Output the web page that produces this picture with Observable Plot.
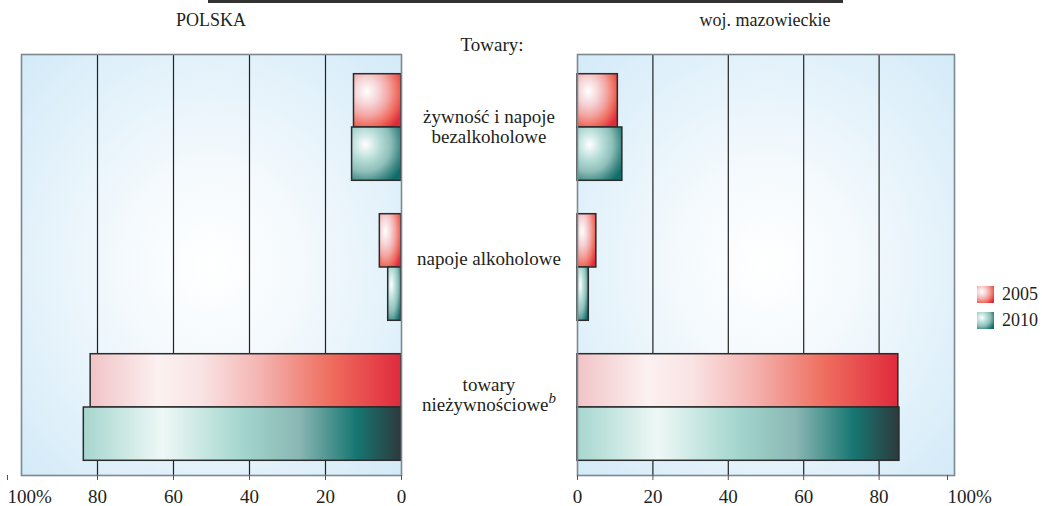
<!DOCTYPE html>
<html>
<head>
<meta charset="utf-8">
<script src="https://cdn.jsdelivr.net/npm/d3@7"></script>
<script src="https://cdn.jsdelivr.net/npm/@observablehq/plot@0.6"></script>
<style>
  html, body { margin: 0; padding: 0; background: #ffffff; }
  #root { position: relative; width: 1042px; height: 506px; overflow: hidden; font-family: "Liberation Serif", "Times New Roman", serif; color: #231f20; }
  .abs { position: absolute; }
  .panel-title { position: absolute; top: 9px; font-size: 18px; line-height: 22px; text-align: center; white-space: nowrap; }
  .cat { position: absolute; left: 389px; width: 200px; text-align: center; font-size: 19px; line-height: 20px; white-space: nowrap; }
  .legend-item { position: absolute; left: 977px; font-size: 18px; line-height: 17px; white-space: nowrap; display: flex; align-items: center; }
  .legend-item svg { margin-right: 8px; }
</style>
</head>
<body>
<svg width="0" height="0" style="position:absolute">
  <defs>
    <radialGradient id="bgGrad" cx="0.5" cy="0.5" r="0.72">
      <stop offset="0" stop-color="#ffffff"/>
      <stop offset="0.35" stop-color="#f3f9fd"/>
      <stop offset="1" stop-color="#d2eaf8"/>
    </radialGradient>
    <radialGradient id="redGrad" cx="0.28" cy="0.33" fx="0.28" fy="0.33" r="0.85">
      <stop offset="0" stop-color="#ffffff"/>
      <stop offset="0.3" stop-color="#f6d3d5"/>
      <stop offset="0.55" stop-color="#f3a3a0"/>
      <stop offset="0.78" stop-color="#ef6a5c"/>
      <stop offset="1" stop-color="#e02a3c"/>
    </radialGradient>
    <radialGradient id="tealGrad" cx="0.28" cy="0.33" fx="0.28" fy="0.33" r="0.85">
      <stop offset="0" stop-color="#ffffff"/>
      <stop offset="0.35" stop-color="#b5dcd7"/>
      <stop offset="0.6" stop-color="#8fbfba"/>
      <stop offset="0.85" stop-color="#3c8784"/>
      <stop offset="1" stop-color="#0f6d69"/>
    </radialGradient>
    <linearGradient id="redLin" x1="0" y1="0" x2="1" y2="0">
      <stop offset="0" stop-color="#f1c3c6"/>
      <stop offset="0.22" stop-color="#fcf1f1"/>
      <stop offset="0.36" stop-color="#f9e3e3"/>
      <stop offset="0.55" stop-color="#f4b3b0"/>
      <stop offset="0.77" stop-color="#ef6e5f"/>
      <stop offset="1" stop-color="#e02a3c"/>
    </linearGradient>
    <linearGradient id="tealLin" x1="0" y1="0" x2="1" y2="0">
      <stop offset="0" stop-color="#a6d6cf"/>
      <stop offset="0.25" stop-color="#eef8f6"/>
      <stop offset="0.5" stop-color="#a3d6ce"/>
      <stop offset="0.68" stop-color="#8ab6b3"/>
      <stop offset="0.86" stop-color="#167672"/>
      <stop offset="1" stop-color="#2d393c"/>
    </linearGradient>
  </defs>
</svg>
<div id="root">
  <div class="abs" style="left:208px; top:0; width:635px; height:3px; background:#333;"></div>
  <div class="panel-title" style="left:111px; width:200px;">POLSKA</div>
  <div class="panel-title" style="left:665px; width:200px;">woj. mazowieckie</div>
  <div class="abs" style="left:392px; width:200px; top:34px; text-align:center; font-size:19px; line-height:22px;">Towary:</div>
  <div id="left" class="abs" style="left:0; top:0;"></div>
  <div id="right" class="abs" style="left:560px; top:0;"></div>
  <div id="labels"></div>
  <div id="legend"></div>
</div>
<script>
// ---- data ----
const categories = ["żywność i napoje bezalkoholowe", "napoje alkoholowe", "towary nieżywnościowe"];
const years = ["2005", "2010"];
const polska2005 = [12.5, 5.7, 81.8];
const polska2010 = [13.0, 3.5, 83.6];
const mazow2005 = [10.7, 5.0, 85.1];
const mazow2010 = [11.9, 3.0, 85.4];
const ticksMain = [0, 20, 40, 60, 80];
const gridTicks = [20, 40, 60, 80];

function rows(v2005, v2010) {
  return categories.flatMap((c, i) => [
    {category: c, year: "2005", value: v2005[i]},
    {category: c, year: "2010", value: v2010[i]}
  ]);
}

function panel(data, reverse, width, marginLeft, marginRight, dx100) {
  const radial = {"2005": "url(#redGrad)", "2010": "url(#tealGrad)"};
  const linear = {"2005": "url(#redLin)", "2010": "url(#tealLin)"};
  const insets = {"2005": {insetTop: 18.7, insetBottom: 68}, "2010": {insetTop: 72, insetBottom: 14.7}};
  const barMarks = years.flatMap(yr => [
    Plot.barX(data.filter(d => d.year === yr && d.value < 50), {
      x: "value", y: "category", fill: radial[yr], stroke: "#2b2b2b", strokeWidth: 1.5, ...insets[yr]
    }),
    Plot.barX(data.filter(d => d.year === yr && d.value >= 50), {
      x: "value", y: "category", fill: linear[yr], stroke: "#2b2b2b", strokeWidth: 1.5, ...insets[yr]
    })
  ]);
  return Plot.plot({
    width,
    height: 506,
    marginTop: 54,
    marginBottom: 31,
    marginLeft,
    marginRight,
    style: {fontFamily: "'Liberation Serif', 'Times New Roman', serif", fontSize: "19px", color: "#231f20", background: "transparent", overflow: "visible"},
    x: {domain: [0, 100], reverse, label: null},
    y: {domain: categories, padding: 0, axis: null, label: null},
    marks: [
      Plot.frame({fill: "url(#bgGrad)", stroke: "none"}),
      Plot.ruleX(gridTicks, {stroke: "#222", strokeWidth: 1.2}),
      ...barMarks,
      Plot.frame({stroke: "#7d8890", strokeWidth: 1.6}),
      Plot.axisX({ticks: ticksMain, tickFormat: d => String(d), label: null, tickSize: 5, tickPadding: 9, stroke: "#555", fill: "#231f20"}),
      Plot.axisX({ticks: [100], tickFormat: () => "100%", label: null, tickSize: 5, tickPadding: 9, stroke: "#555", fill: "#231f20", textAnchor: "start", dx: dx100})
    ]
  });
}

document.getElementById("left").appendChild(panel(rows(polska2005, polska2010), true, 420, 21, 19, -14));
document.getElementById("right").appendChild(panel(rows(mazow2005, mazow2010), false, 482, 17, 88, -7));

// category labels
const labelTops = [107, 249, 375];
const labelHtml = [
  "żywność i napoje<br>bezalkoholowe",
  "napoje alkoholowe",
  "towary<br>nieżywnościowe<i style=\"font-size:15px; position:relative; top:-8px;\">b</i>"
];
const labels = document.getElementById("labels");
labelHtml.forEach((h, i) => {
  const d = document.createElement("div");
  d.className = "cat";
  d.style.top = labelTops[i] + "px";
  d.innerHTML = h;
  labels.appendChild(d);
});

// legend
const legend = document.getElementById("legend");
[["2005", "url(#redGrad)", 286], ["2010", "url(#tealGrad)", 312]].forEach(([yr, fill, top]) => {
  const d = document.createElement("div");
  d.className = "legend-item";
  d.style.top = top + "px";
  d.innerHTML = `<svg width="17" height="17"><rect width="17" height="17" fill="${fill}"/></svg><span>${yr}</span>`;
  legend.appendChild(d);
});
</script>
</body>
</html>
